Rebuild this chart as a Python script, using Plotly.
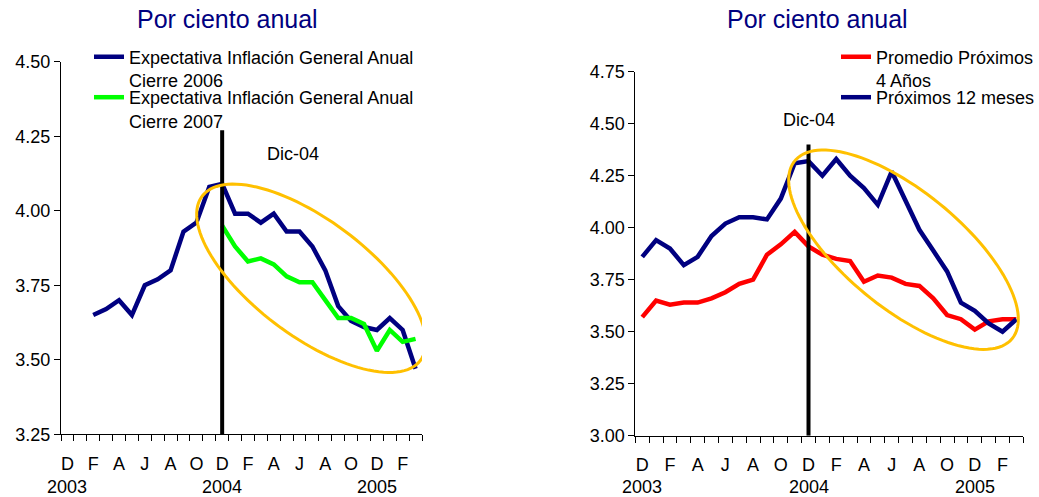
import numpy as np
import plotly.graph_objects as go

# ---------------- data ----------------
n_cat = 28
month_labels = ["D", "F", "A", "J", "A", "O", "D", "F", "A", "J", "A", "O", "D", "F"]
year_labels = ["2003", "2004", "2005"]
year_pos = [0, 12, 24]

left_2006 = [None, None, 3.65, 3.67, 3.70, 3.65, 3.75, 3.77, 3.80, 3.93, 3.96, 4.08, 4.09,
             3.99, 3.99, 3.96, 3.99, 3.93, 3.93, 3.88, 3.80, 3.68, 3.63, 3.61, 3.60, 3.64, 3.60, 3.47]
left_2007 = [None] * 12 + [3.95, 3.88, 3.83, 3.84, 3.82, 3.78, 3.76, 3.76, 3.70, 3.64, 3.64,
                           3.62, 3.53, 3.60, 3.56, 3.57]

right_4anos = [3.57, 3.65, 3.63, 3.64, 3.64, 3.66, 3.69, 3.73, 3.75, 3.87, 3.92, 3.98, 3.91,
               3.87, 3.85, 3.84, 3.74, 3.77, 3.76, 3.73, 3.72, 3.66, 3.58, 3.56, 3.51, 3.55, 3.56, 3.56]
right_12m = [3.86, 3.94, 3.90, 3.82, 3.86, 3.96, 4.02, 4.05, 4.05, 4.04, 4.14, 4.31, 4.32,
             4.25, 4.33, 4.25, 4.19, 4.11, 4.27, 4.13, 3.99, 3.89, 3.79, 3.64, 3.60, 3.54, 3.50, 3.56]

# ---------------- styling ----------------
W, H = 1039, 497
NAVY = "#000080"
GREEN = "#00FF00"
RED = "#FF0000"
GOLD = "#FFC000"
FONT = "Liberation Sans, Arial, sans-serif"

cats = list(range(n_cat))

# pixel geometry of plot areas
L = dict(x0=61, x1=422, ytop=61.7, ybot=434.3, ymin=3.25, ymax=4.50)
R = dict(x0=635.3, x1=1023.3, ytop=71.7, ybot=435.7, ymin=3.00, ymax=4.75)


def px2data(g, px, py):
    dx = (g["x1"] - g["x0"]) / n_cat
    xd = -0.5 + (px - g["x0"]) / dx
    yd = g["ymax"] - (py - g["ytop"]) * (g["ymax"] - g["ymin"]) / (g["ybot"] - g["ytop"])
    return xd, yd


def ellipse_path(g, cx, cy, a, b, theta_deg):
    t = np.linspace(0, 2 * np.pi, 120)
    th = np.radians(theta_deg)
    px = cx + a * np.cos(t) * np.cos(th) - b * np.sin(t) * np.sin(th)
    py = cy + a * np.cos(t) * np.sin(th) + b * np.sin(t) * np.cos(th)
    xd, yd = px2data(g, px, py)
    pts = [f"{x:.4f},{y:.4f}" for x, y in zip(xd, yd)]
    return "M" + " L".join(pts) + " Z"


fig = go.Figure()

fig.add_trace(go.Scatter(x=cats, y=left_2006, mode="lines", xaxis="x", yaxis="y",
                         line=dict(color=NAVY, width=4.5), showlegend=True,
                         name="Expectativa Inflación General Anual<br>Cierre 2006", legend="legend"))
fig.add_trace(go.Scatter(x=cats, y=left_2007, mode="lines", xaxis="x", yaxis="y",
                         line=dict(color=GREEN, width=4.5), showlegend=True,
                         name="Expectativa Inflación General Anual<br>Cierre 2007", legend="legend3"))
fig.add_trace(go.Scatter(x=cats, y=right_4anos, mode="lines", xaxis="x2", yaxis="y2",
                         line=dict(color=RED, width=4.5), showlegend=True,
                         name="Promedio Próximos<br>4 Años", legend="legend2"))
fig.add_trace(go.Scatter(x=cats, y=right_12m, mode="lines", xaxis="x2", yaxis="y2",
                         line=dict(color=NAVY, width=4.5), showlegend=True,
                         name="Próximos 12 meses", legend="legend4"))

tickfont = dict(family=FONT, size=18, color="black")


def xaxis(domain):
    return dict(domain=domain, range=[-0.5, n_cat - 0.5], showline=True, linecolor="black",
                linewidth=1, showgrid=False, zeroline=False, tickmode="array",
                tickvals=list(range(0, n_cat, 2)), ticktext=month_labels, ticks="",
                ticklabelstandoff=13, tickfont=tickfont, fixedrange=True, automargin=False,
                minor=dict(tick0=-0.5, dtick=1, ticks="outside", ticklen=6,
                           tickcolor="black", tickwidth=1, showgrid=False))


def yaxis(domain, anchor, lo, hi):
    return dict(domain=domain, anchor=anchor, range=[lo, hi], showline=True, linecolor="black",
                linewidth=1, showgrid=False, zeroline=False, tickmode="linear", tick0=lo,
                dtick=0.25, tickformat=".2f", ticks="outside", ticklen=6, tickcolor="black",
                tickfont=tickfont, fixedrange=True, automargin=False)


def legend(xpx, ypx):
    return dict(x=xpx / W, y=1 - ypx / H, xanchor="left", yanchor="top", visible=True,
                bgcolor="rgba(0,0,0,0)", font=dict(family=FONT, size=18, color="black"),
                valign="top", tracegroupgap=0, itemwidth=30)


fig.update_layout(
    width=W, height=H, margin=dict(l=0, r=0, t=0, b=0, autoexpand=False),
    paper_bgcolor="white", plot_bgcolor="white", showlegend=True,
    font=dict(family=FONT, size=18, color="black"),
    xaxis=dict(**xaxis([L["x0"] / W, L["x1"] / W]), anchor="y"),
    yaxis=yaxis([(H - L["ybot"]) / H, (H - L["ytop"]) / H], "x", L["ymin"], L["ymax"]),
    xaxis2=dict(**xaxis([R["x0"] / W, R["x1"] / W]), anchor="y2"),
    yaxis2=yaxis([(H - R["ybot"]) / H, (H - R["ytop"]) / H], "x2", R["ymin"], R["ymax"]),
    legend=legend(89, 38.5),
    legend3=legend(89, 79),
    legend2=legend(836, 38.5),
    legend4=legend(836, 79),
)

shapes = []
# Dic-04 vertical markers
shapes.append(dict(type="line", xref="x", yref="y", x0=12, x1=12, y0=3.25, y1=4.27,
                   line=dict(color="black", width=4)))
shapes.append(dict(type="line", xref="x2", yref="y2", x0=12, x1=12, y0=3.00, y1=4.40,
                   line=dict(color="black", width=4)))
# highlight ellipses
shapes.append(dict(type="path", xref="x", yref="y",
                   path=ellipse_path(L, 311.3, 278.3, 136.6, 57.9, 36.9),
                   line=dict(color=GOLD, width=3)))
shapes.append(dict(type="path", xref="x2", yref="y2",
                   path=ellipse_path(R, 903.5, 249.7, 140.4, 58.4, 39.25),
                   line=dict(color=GOLD, width=3)))
fig.update_layout(shapes=shapes)

ann = []
ann.append(dict(text="Por ciento anual", xref="paper", yref="paper", x=227.7 / W, y=1 - 19 / H,
                showarrow=False, xanchor="center", yanchor="middle",
                font=dict(family=FONT, size=25, color=NAVY)))
ann.append(dict(text="Por ciento anual", xref="paper", yref="paper", x=817.5 / W, y=1 - 19 / H,
                showarrow=False, xanchor="center", yanchor="middle",
                font=dict(family=FONT, size=25, color=NAVY)))
ann.append(dict(text="Dic-04", xref="x", yref="y", x=17.5, y=4.19, showarrow=False,
                xanchor="center", yanchor="middle", font=dict(family=FONT, size=18)))
ann.append(dict(text="Dic-04", xref="x2", yref="y2", x=12, y=4.52, showarrow=False,
                xanchor="center", yanchor="middle", font=dict(family=FONT, size=18)))
for xr in ["x", "x2"]:
    for lab, pos in zip(year_labels, year_pos):
        ann.append(dict(text=lab, xref=xr, yref="paper", x=pos, y=(H - 487) / H,
                        showarrow=False, xanchor="center", yanchor="middle",
                        font=dict(family=FONT, size=18, color="black")))
fig.update_layout(annotations=ann)

fig.write_html("out.html", config={"displayModeBar": False},
               post_script="document.body.style.margin='0';document.body.style.padding='0';")
